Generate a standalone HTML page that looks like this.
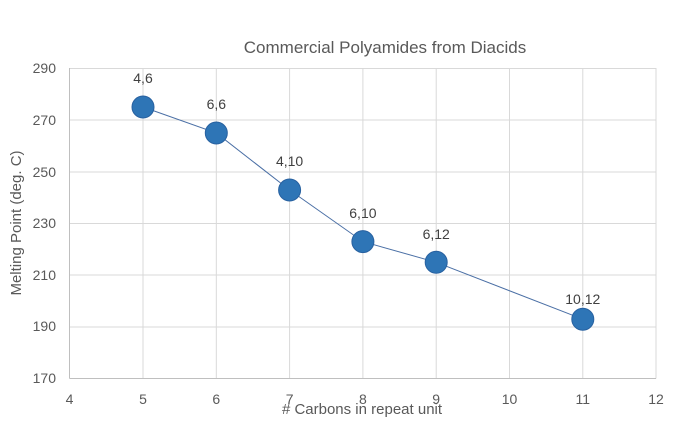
<!DOCTYPE html>
<html><head><meta charset="utf-8"><style>body{margin:0;background:#fff}</style></head><body>
<svg width="700" height="424" xmlns="http://www.w3.org/2000/svg" font-family="Liberation Sans, sans-serif">
<rect width="700" height="424" fill="#fff"/>
<g stroke="#d9d9d9" stroke-width="1">
<line x1="69.5" y1="68.5" x2="656" y2="68.5"/>
<line x1="69.5" y1="120" x2="656" y2="120"/>
<line x1="69.5" y1="172" x2="656" y2="172"/>
<line x1="69.5" y1="223.5" x2="656" y2="223.5"/>
<line x1="69.5" y1="275" x2="656" y2="275"/>
<line x1="69.5" y1="327" x2="656" y2="327"/>
<line x1="143" y1="68" x2="143" y2="378.5"/>
<line x1="216.3" y1="68" x2="216.3" y2="378.5"/>
<line x1="289.6" y1="68" x2="289.6" y2="378.5"/>
<line x1="362.9" y1="68" x2="362.9" y2="378.5"/>
<line x1="436.2" y1="68" x2="436.2" y2="378.5"/>
<line x1="509.5" y1="68" x2="509.5" y2="378.5"/>
<line x1="582.8" y1="68" x2="582.8" y2="378.5"/>
<line x1="656" y1="68" x2="656" y2="378.5"/>
<line x1="69.5" y1="68" x2="69.5" y2="378.5" stroke="#bfbfbf"/>
<line x1="69.5" y1="378.5" x2="656" y2="378.5" stroke="#bfbfbf"/>
</g>
<text x="385" y="53" text-anchor="middle" font-size="17" fill="#595959">Commercial Polyamides from Diacids</text>
<g font-size="14" fill="#595959" text-anchor="end">
<text x="56" y="73">290</text><text x="56" y="125">270</text><text x="56" y="177">250</text>
<text x="56" y="228">230</text><text x="56" y="280">210</text><text x="56" y="331">190</text><text x="56" y="383">170</text>
</g>
<g font-size="14" fill="#595959" text-anchor="middle">
<text x="69.5" y="404">4</text><text x="143" y="404">5</text><text x="216.3" y="404">6</text><text x="289.6" y="404">7</text>
<text x="362.9" y="404">8</text><text x="436.2" y="404">9</text><text x="509.5" y="404">10</text><text x="582.8" y="404">11</text><text x="656" y="404">12</text>
</g>
<text x="362" y="414" text-anchor="middle" font-size="15" fill="#595959"># Carbons in repeat unit</text>
<text transform="translate(21,223) rotate(-90)" text-anchor="middle" font-size="15" fill="#595959">Melting Point (deg. C)</text>
<polyline points="143,107 216.3,133 289.6,190 362.9,241.6 436.2,262.3 582.8,319.2" fill="none" stroke="#4a6fa5" stroke-width="1"/>
<g fill="#2e75b6" stroke="#2861a0" stroke-width="1">
<circle cx="143" cy="107" r="11"/><circle cx="216.3" cy="133" r="11"/><circle cx="289.6" cy="190" r="11"/>
<circle cx="362.9" cy="241.6" r="11"/><circle cx="436.2" cy="262.3" r="11"/><circle cx="582.8" cy="319.2" r="11"/>
</g>
<g font-size="14" fill="#404040" text-anchor="middle">
<text x="143" y="83">4,6</text><text x="216.3" y="109">6,6</text><text x="289.6" y="166">4,10</text>
<text x="362.9" y="218">6,10</text><text x="436.2" y="239">6,12</text><text x="582.8" y="304">10,12</text>
</g>
</svg>
</body></html>
